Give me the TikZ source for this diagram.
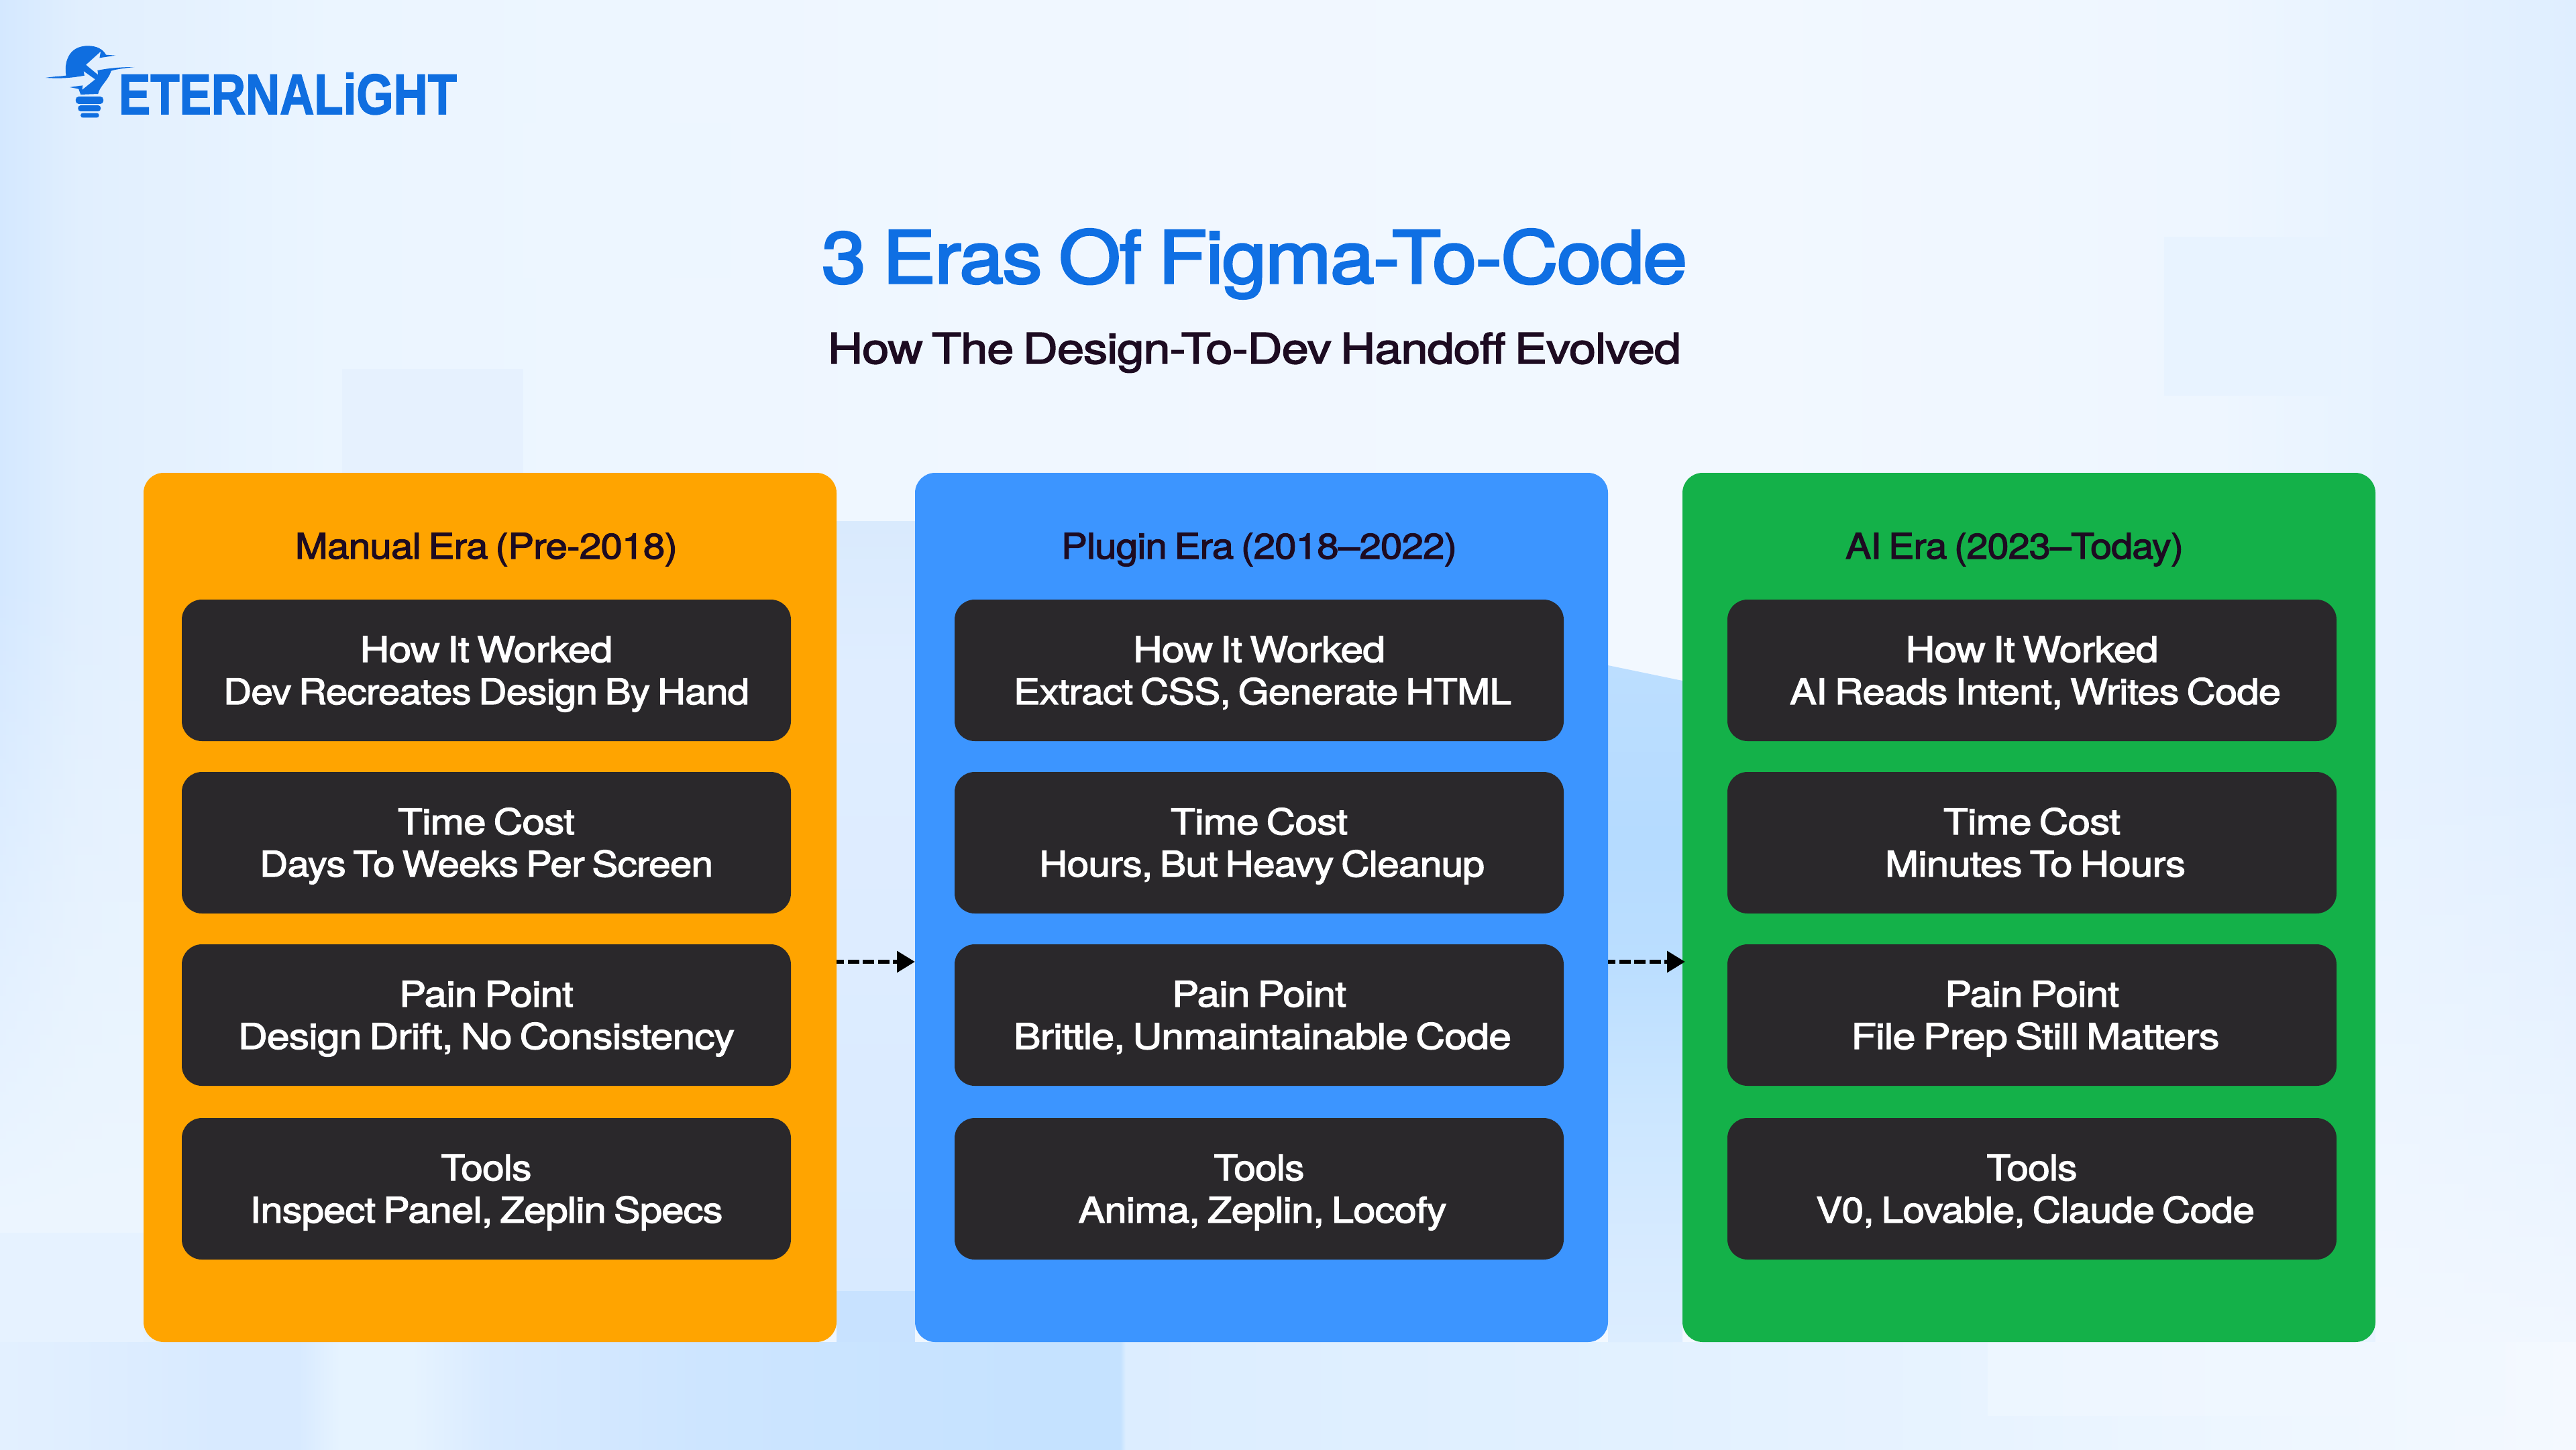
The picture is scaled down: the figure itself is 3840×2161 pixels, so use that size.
\documentclass[tikz,border=0pt]{standalone}
\usepackage{fontspec}
\usepackage{graphicx}
\usetikzlibrary{arrows.meta,fadings}
\newfontfamily\hvb[FakeBold=2.2,LetterSpace=-1.4,WordSpace=0.7]{TeX Gyre Heros}
\newfontfamily\hvt[FakeBold=2.8,LetterSpace=-1.4,WordSpace=0.8]{TeX Gyre Heros}
\newfontfamily\logofont[FakeBold=2]{Liberation Sans Bold}
\definecolor{cOrange}{HTML}{FFA400}
\definecolor{cBlue}{HTML}{3C95FF}
\definecolor{cGreen}{HTML}{14B149}
\definecolor{cDark}{HTML}{2A282B}
\definecolor{cInk}{HTML}{1D0B21}
\definecolor{cTitle}{HTML}{0F6FE3}
\definecolor{cLogo}{HTML}{0F6EE0}
\definecolor{bgA}{HTML}{D4E8FF}\definecolor{bgB}{HTML}{E1EFFE}\definecolor{bgC}{HTML}{EBF5FF}
\definecolor{bgD}{HTML}{F0F7FF}\definecolor{bgE}{HTML}{F2F8FF}\definecolor{bgF}{HTML}{EEF6FF}\definecolor{bgG}{HTML}{DFEEFF}
\definecolor{bbA}{HTML}{E3F0FF}\definecolor{bbB}{HTML}{D8EAFF}\definecolor{bbC}{HTML}{E6F3FF}\definecolor{bbD}{HTML}{D8EAFF}
\definecolor{bbE}{HTML}{CDE5FF}\definecolor{bbF}{HTML}{C5E2FF}\definecolor{bbG}{HTML}{DCEDFF}\definecolor{bbH}{HTML}{E2F1FF}
\definecolor{bbI}{HTML}{E8F3FF}\definecolor{bbJ}{HTML}{EFF7FF}\definecolor{bbK}{HTML}{F4F9FF}
\definecolor{gaA}{HTML}{D9EAFD}\definecolor{gaB}{HTML}{DDECFF}\definecolor{gaC}{HTML}{D8EAFF}\definecolor{gaD}{HTML}{DFEDFF}
\definecolor{gbA}{HTML}{BCDEFF}\definecolor{gbB}{HTML}{B5DBFF}\definecolor{gbC}{HTML}{BBDEFF}\definecolor{gbD}{HTML}{CBE6FF}\definecolor{gbE}{HTML}{D6EAFF}\definecolor{gbF}{HTML}{DCEDFF}
\definecolor{rectA}{HTML}{E8F3FF}\definecolor{rectB}{HTML}{EDF6FF}\definecolor{rectC}{HTML}{E6F1FE}\definecolor{rectD}{HTML}{F4F9FF}\definecolor{rectE}{HTML}{C8E2FF}
\definecolor{rectF}{HTML}{EDF6FF}\definecolor{rectG}{HTML}{E6F2FF}\definecolor{rectH}{HTML}{F1F8FF}
\newsavebox\fitbox
\newcommand\fitw[2]{\sbox\fitbox{#2}\pgfmathsetmacro\fitr{#1/\the\wd\fitbox}\scalebox{\fitr}[1]{\usebox\fitbox}}
\newcommand\fitb[2]{\sbox\fitbox{#2}\ht\fitbox=38pt\dp\fitbox=0pt\pgfmathsetmacro\fitr{#1/\the\wd\fitbox}\scalebox{\fitr}[1]{\usebox\fitbox}}
\newcommand\lineb[5]{\fitb{#2}{#1}\\\hspace*{#5pt}\fitb{#4}{#3}}
\pgfdeclarehorizontalshading{bgbase}{100bp}{
  color(0bp)=(bgA); color(25bp)=(bgA); color(26.56bp)=(bgB); color(31.5bp)=(bgC);
  color(44.5bp)=(bgD); color(58.85bp)=(bgE); color(68bp)=(bgF); color(75bp)=(bgG); color(100bp)=(bgG)}
\pgfdeclarehorizontalshading{bgbottom}{100bp}{
  color(0bp)=(bbA); color(25bp)=(bbA); color(29.2bp)=(bbB); color(30.8bp)=(bbB); color(31.6bp)=(bbC); color(33bp)=(bbC);
  color(34.57bp)=(bbD); color(38.7bp)=(bbE); color(45.4bp)=(bbF); color(46.75bp)=(bbF); color(46.85bp)=(bbG);
  color(56.9bp)=(bbH); color(63.6bp)=(bbI); color(70.3bp)=(bbJ); color(75bp)=(bbK); color(100bp)=(bbK)}
\pgfdeclareverticalshading{bggapone}{100bp}{
  color(0bp)=(gaC); color(25bp)=(gaC); color(46.4bp)=(gaB); color(65.3bp)=(gaD); color(75bp)=(gaA); color(100bp)=(gaA)}
\pgfdeclareverticalshading{bggaptwo}{100bp}{
  color(0bp)=(gbF); color(25bp)=(gbF); color(32.5bp)=(gbE); color(42.4bp)=(gbD); color(52.8bp)=(gbC);
  color(62.2bp)=(gbB); color(75bp)=(gbA); color(100bp)=(gbA)}
\tikzset{
  card/.style={rounded corners=30pt,minimum width=1033pt,minimum height=1296pt,inner sep=0pt,outer sep=0pt},
  darkbox/.style={fill=cDark,rounded corners=30pt,minimum width=908pt,minimum height=211pt,inner sep=0pt,outer sep=0pt,text=white,align=center,font={\hvb\fontsize{53}{63}\selectfont}},
  header/.style={inner sep=0pt,outer sep=0pt,anchor=base,text=cInk,font={\hvb\fontsize{53}{62}\selectfont}},
  flowarrow/.style={line width=6.2pt,black,dash pattern=on 17pt off 5.5pt,dash phase=6pt,-{Triangle[length=27pt,width=31pt]}},
}
\begin{document}
\begin{tikzpicture}[x=1pt,y=-1pt]
\useasboundingbox (0,0) rectangle (3840,2161);
% background
\shade[shading=bgbase] (0,0) rectangle (3840,2161);
\fill[rectF,path fading=north] (0,850) rectangle (214,1838);
\fill[rectG] (0,1838) rectangle (214,2001);
\fill[rectA] (3226,353) rectangle (3490,590);
\fill[rectB] (780,184) rectangle (1090,415);
\fill[rectC] (510,550) rectangle (780,705);
\fill[rectD,path fading=north] (3541,1100) rectangle (3840,2161);
\shade[shading=bgbottom] (0,2001) rectangle (3840,2161);
\fill[rectH,opacity=.6] (2963,2001) rectangle (3735,2111);
\shade[shading=bggapone] (1247,777) rectangle (1364,1925);
\fill[rectE] (1247,1925) rectangle (1364,2001);
\shade[shading=bggaptwo] (2397,992) -- (2508,1015) -- (2508,2001) -- (2397,2001) -- cycle;
% logo
\begin{scope}[shift={(40pt,-40pt)},x=0.4337pt,y=-0.3333pt]
\fill[cLogo] (65,228) .. controls (90,222) and (115,222) .. (135,218)
  .. controls (128,170) and (138,85) .. (210,85)
  .. controls (240,85) and (262,100) .. (272,125) -- (305,128) -- (250,139) -- (254,110) -- (203,170) -- (245,215)
  -- (243,195) .. controls (280,185) and (320,180) .. (370,180)
  .. controls (335,185) and (305,190) .. (290,197)
  .. controls (280,240) and (250,265) .. (245,300) -- (185,303) -- (178,278) -- (148,270) -- (192,262) -- (190,282) -- (235,235) -- (195,198) -- (198,218)
  .. controls (150,230) and (110,232) .. (65,228) -- cycle;
\fill[cLogo,rounded corners=4.5pt] (168,312) rectangle (263,345);
\fill[cLogo,rounded corners=4pt] (176,351) rectangle (254,378);
\fill[cLogo,rounded corners=3pt] (185,386) rectangle (248,406);
\end{scope}
\node[inner sep=0pt,outer sep=0pt,anchor=base west,text=cLogo,font={\logofont\fontsize{85}{85}\selectfont}] (logotext) at (177,170) {\fitw{504}{ETERNALiGHT}};
% title
\node[inner sep=0pt,outer sep=0pt,anchor=base,text=cTitle,font={\hvt\fontsize{108}{110}\selectfont}] (title) at (1870,422) {\fitw{1290}{3 Eras Of Figma-To-Code}};
\node[inner sep=0pt,outer sep=0pt,anchor=base,text=cInk,font={\hvb\fontsize{63}{70}\selectfont}] (subtitle) at (1870,542) {\fitw{1272}{How The Design-To-Dev Handoff Evolved}};
% cards
\node[card,fill=cOrange] (orange) at (730.5,1353) {};
\node[card,fill=cBlue] (blue) at (1880.5,1353) {};
\node[card,fill=cGreen] (green) at (3024.5,1353) {};
\node[header] (h1) at (725,833) {\fitw{570}{Manual Era (Pre-2018)}};
\node[header] (h2) at (1877,833) {\fitw{590}{Plugin Era (2018–2022)}};
\node[header] (h3) at (3003,833) {\fitw{504}{AI Era (2023–Today)}};
% orange boxes
\node[darkbox] (o1) at (725,999.5) {\lineb{How It Worked}{377}{Dev Recreates Design By Hand}{784}{0}};
\node[darkbox] (o2) at (725,1256.5) {\lineb{Time Cost}{264}{Days To Weeks Per Screen}{676}{0}};
\node[darkbox] (o3) at (725,1513.5) {\lineb{Pain Point}{260}{Design Drift, No Consistency}{740}{0}};
\node[darkbox] (o4) at (725,1772.5) {\lineb{Tools}{135}{Inspect Panel, Zeplin Specs}{705}{0}};
% blue boxes
\node[darkbox] (b1) at (1877,999.5) {\lineb{How It Worked}{376}{Extract CSS, Generate HTML}{742}{10}};
\node[darkbox] (b2) at (1877,1256.5) {\lineb{Time Cost}{264}{Hours, But Heavy Cleanup}{664}{8}};
\node[darkbox] (b3) at (1877,1513.5) {\lineb{Pain Point}{260}{Brittle, Unmaintainable Code}{742}{10}};
\node[darkbox] (b4) at (1877,1772.5) {\lineb{Tools}{135}{Anima, Zeplin, Locofy}{549}{10}};
% green boxes
\node[darkbox] (g1) at (3029,999.5) {\lineb{How It Worked}{377}{AI Reads Intent, Writes Code}{732}{10}};
\node[darkbox] (g2) at (3029,1256.5) {\lineb{Time Cost}{264}{Minutes To Hours}{448}{10}};
\node[darkbox] (g3) at (3029,1513.5) {\lineb{Pain Point}{260}{File Prep Still Matters}{549}{10}};
\node[darkbox] (g4) at (3029,1772.5) {\lineb{Tools}{135}{V0, Lovable, Claude Code}{654}{10}};
% arrows
\coordinate (ay) at (0,1434);
\coordinate (tipg) at ([xshift=4pt]green.west |- ay);
\draw[flowarrow] (orange.east |- ay) -- (blue.west |- ay);
\draw[flowarrow] (blue.east |- ay) -- (tipg);
\end{tikzpicture}
\end{document}
